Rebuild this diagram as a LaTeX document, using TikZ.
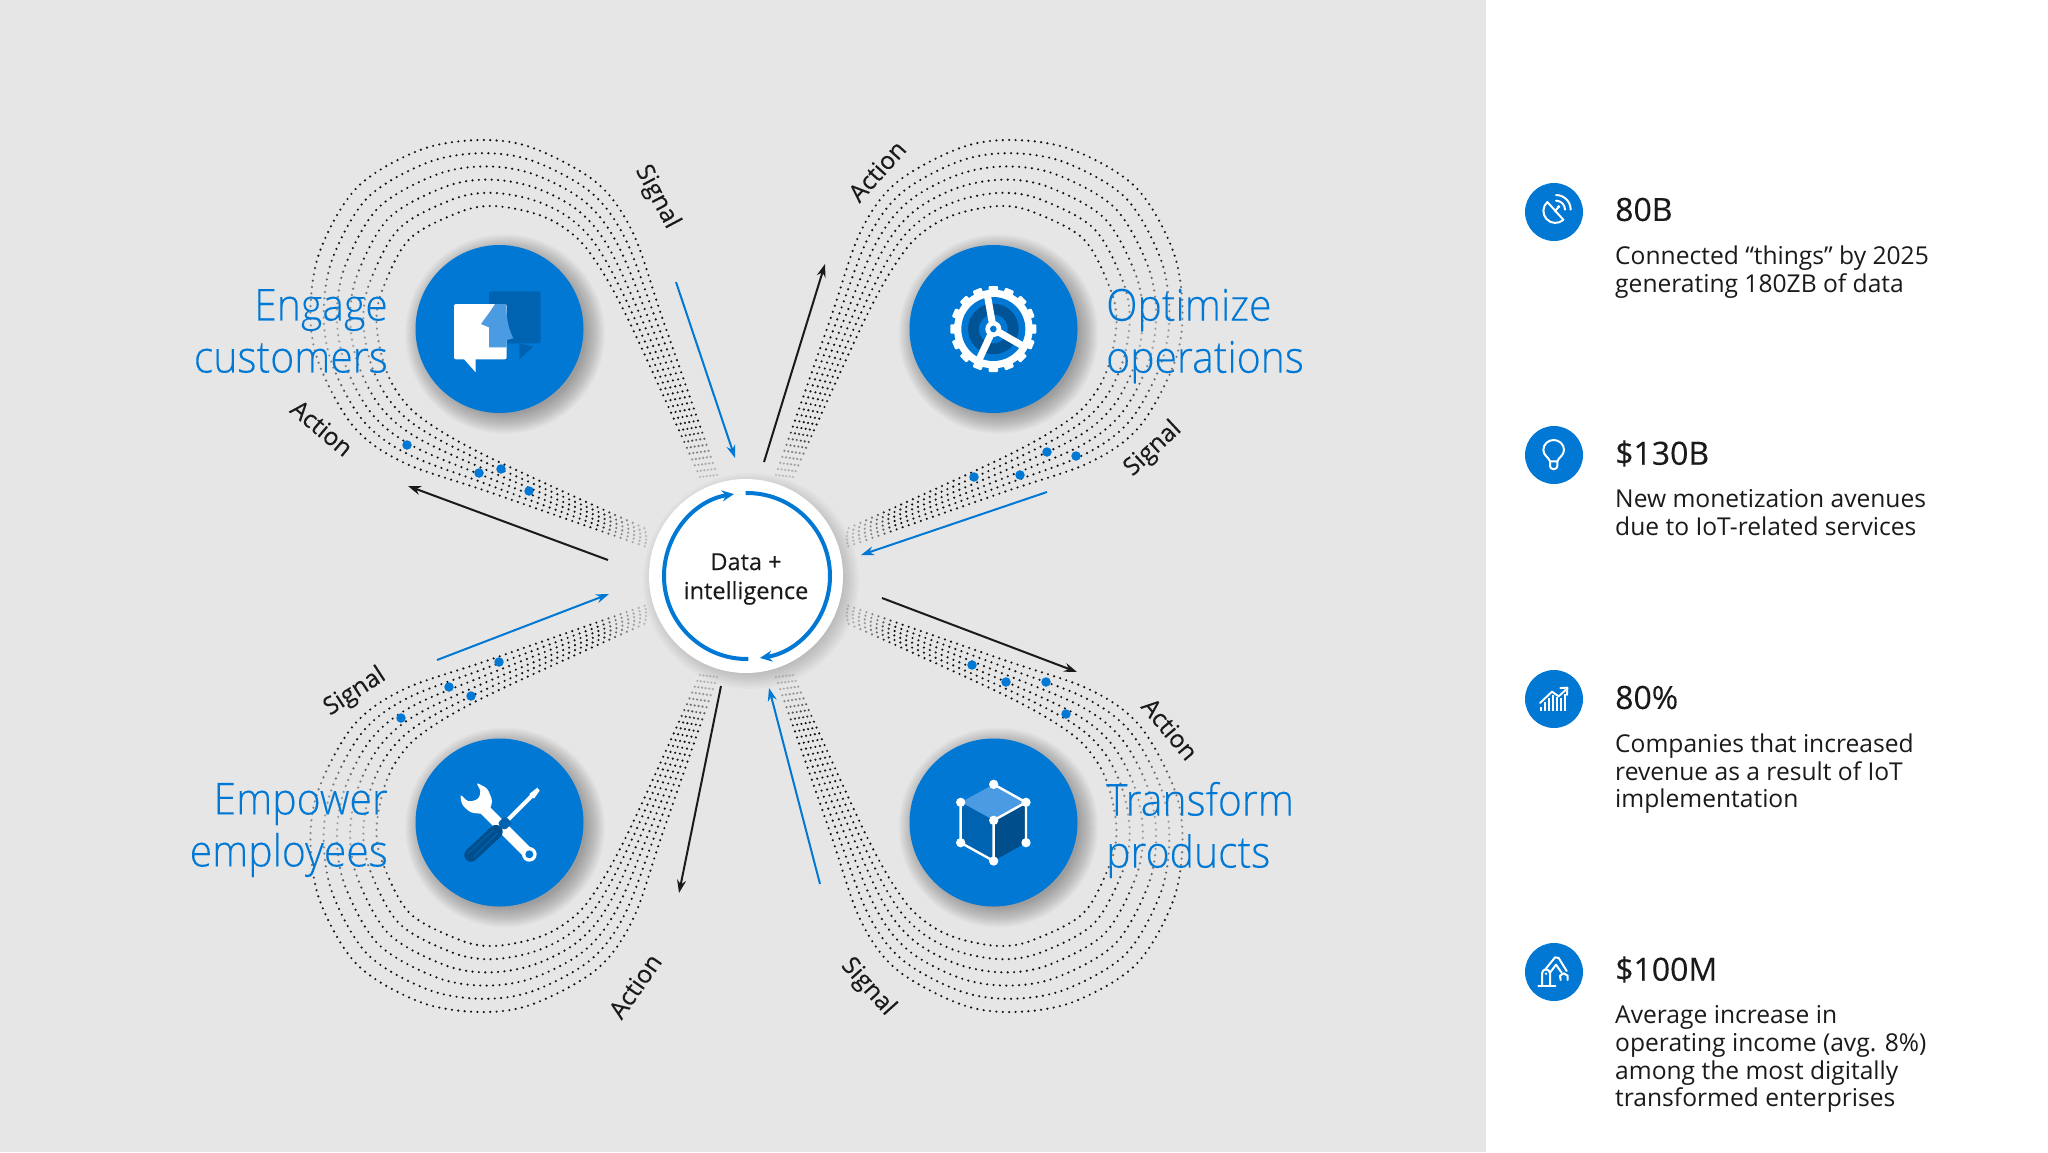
\documentclass[tikz,border=0pt]{standalone}
\usepackage{fontspec}
\usetikzlibrary{arrows.meta}
\setmainfont{Open Sans}
\newfontfamily\lightf{Open Sans Light}[FakeStretch=0.93,FakeBold=0.15]
\newfontfamily\midf{Open Sans}[FakeBold=0.25]
\definecolor{bgc}{HTML}{E6E6E7}
\definecolor{azure}{HTML}{0078D4}
\definecolor{azdark}{HTML}{0063B1}
\definecolor{azdeep}{HTML}{004E8C}
\definecolor{azlight}{HTML}{4A9BE2}
\definecolor{ink}{HTML}{1A1A1A}
\definecolor{dotc}{HTML}{111111}
\tikzset{
 dotline/.style={draw=dotc,line width=2.4,line cap=round,dash pattern=on 0pt off 6.4pt},
 bluearrow/.style={draw=azure,line width=2,-{Stealth[length=13,width=9]}},
 blackarrow/.style={draw=ink,line width=2,-{Stealth[length=13,width=9]}},
 sigdot/.style={fill=azure,circle,inner sep=0,minimum size=9.5},
 hub/.style={circle,fill=azure,minimum size=168,inner sep=0},
 tiny/.style={circle,fill=azure,minimum size=58,inner sep=0},
 headline/.style={font=\lightf\fontsize{44}{52}\selectfont,text=azure,inner sep=0},
 flowlabel/.style={font=\midf\fontsize{24.5}{28}\selectfont,text=ink,inner sep=0},
 stat/.style={font=\midf\fontsize{32}{36}\selectfont,text=ink,inner sep=0,anchor=west},
 statbody/.style={font=\fontsize{24.6}{27.7}\selectfont,text=ink,inner sep=0,anchor=north west,align=left},
 ic/.style={draw=white,line width=2,line cap=round,line join=round},
}
\newcommand{\softdisc}[6]{\foreach \rr in {#3,#4,...,#5}{\fill[bgc,opacity=#6] (#1,#2) circle[radius=\rr];}}
\newcommand{\softshadow}[4]{\foreach \rr in {#3,...,#4}{\fill[black,opacity=0.017] (#1,#2) circle[radius=\rr];}}
\begin{document}
\begin{tikzpicture}[x=1pt,y=-1pt]
\useasboundingbox (0,0) rectangle (2048,1152);
\fill[bgc] (0,0) rectangle (1486,1152);
\fill[white] (1486,0) rectangle (2048,1152);
% dotted loops
\foreach \sx/\sy in {1/1,-1/1,1/-1,-1/-1}{
\begin{scope}[shift={(746.5,576)},xscale=\sx,yscale=\sy]
\foreach \i in {0,...,5}{
\pgfmathsetmacro\t{\i/5}
\draw[dotline] plot[smooth,tension=0.55] coordinates {
({-29.5-17*\t},{-101+2*\t})
({-83.5-36*\t},{-256-3*\t})
({-113.5-43*\t},{-343+20*\t})
({-149.5-34*\t},{-393+44*\t})
({-213.5+0*\t},{-428+65*\t})
({-266.5+13*\t},{-436+66*\t})
({-326.5+40*\t},{-426+62*\t})
({-389+52*\t},{-389+52*\t})
({-426+62*\t},{-326.5+40*\t})
({-436+66*\t},{-266.5+13*\t})
({-428+65*\t},{-213.5+0*\t})
({-393+44*\t},{-149.5-34*\t})
({-343+20*\t},{-113.5-43*\t})
({-256-3*\t},{-83.5-36*\t})
({-101+2*\t},{-29.5-17*\t})
};
}
% fade of the dots beside the labels
\softdisc{-402}{-246}{20}{26}{75}{0.11}
\end{scope}
}
% fade of the dots near the centre
\softdisc{746.5}{576}{100}{105}{155}{0.15}
% blue signal dots
\foreach \px/\py in {407/445,479/473,501/469,529/491,974/477,1020/475,1047/452,1076/456,401/718,449/687,471/696,499/662,972/665,1006/682,1046/682,1066/714}{
 \node[sigdot] (d\px) at (\px,\py) {};
}
% shadows
\foreach \cx/\cy in {500/329,993.5/329,500/822.5,993.5/822.5}{\softshadow{\cx+5}{\cy+5}{80}{100}}
\foreach \rr in {92,94,...,108}{\fill[black,opacity=0.02] (751,581) circle[radius=\rr];}
% circles
\node[circle,fill=white,minimum size=194,inner sep=0] (core) at (746,576) {};
\node[hub] (engage) at (499.5,329) {};
\node[hub] (optimize) at (993.5,329) {};
\node[hub] (empower) at (499.5,822.5) {};
\node[hub] (transform) at (993.5,822.5) {};
% core ring
\draw[azure,line width=4,-{Stealth[length=12,width=11]}] (747,576) ++(-91:83) arc[start angle=-91,end angle=81,radius=83];
\draw[azure,line width=4,-{Stealth[length=12,width=11]}] (747,576) ++(89:83) arc[start angle=89,end angle=261,radius=83];
\node[font=\midf\fontsize{23.5}{29}\selectfont,text=ink,align=center,inner sep=0] (coretxt) at (746,579) {Data +\\intelligence};
% arrows
\coordinate (a1s) at (676,282); \coordinate (a1e) at (735,458);
\coordinate (a2s) at (608,560); \coordinate (a2e) at (408,486);
\coordinate (a3s) at (764,462); \coordinate (a3e) at (825,264);
\coordinate (a4s) at (1047,492); \coordinate (a4e) at (861,555);
\coordinate (a5s) at (882,598); \coordinate (a5e) at (1077,672);
\coordinate (a6s) at (820,884); \coordinate (a6e) at (769,688);
\coordinate (a7s) at (721,686); \coordinate (a7e) at (679,893);
\coordinate (a8s) at (437,660); \coordinate (a8e) at (609,594);
\draw[bluearrow] (a1s) -- (a1e);
\draw[blackarrow] (a2s) -- (a2e);
\draw[blackarrow] (a3s) -- (a3e);
\draw[bluearrow] (a4s) -- (a4e);
\draw[blackarrow] (a5s) -- (a5e);
\draw[bluearrow] (a6s) -- (a6e);
\draw[blackarrow] (a7s) -- (a7e);
\draw[bluearrow] (a8s) -- (a8e);
% flow labels
\node[flowlabel,rotate=-62] (l1) at (657,197) {Signal};
\node[flowlabel,rotate=-40] (l2) at (322,428) {Action};
\node[flowlabel,rotate=48] (l3) at (877,171) {Action};
\node[flowlabel,rotate=43] (l4) at (1153,449) {Signal};
\node[flowlabel,rotate=-50] (l5) at (1170,729) {Action};
\node[flowlabel,rotate=-48] (l6) at (868,987) {Signal};
\node[flowlabel,rotate=55] (l7) at (635,986) {Action};
\node[flowlabel,rotate=33] (l8) at (355,692) {Signal};
% headlines
\node[headline,anchor=east,align=right] (h1) at (388,331) {Engage\\customers};
\node[headline,anchor=west,align=left] (h2) at (1106,336) {Optimize\\operations};
\node[headline,anchor=east,align=right] (h3) at (388,830) {Empower\\employees};
\node[headline,anchor=west,align=left] (h4) at (1106,830) {Transform\\products};
% engage icon
\begin{scope}[shift={(280,120)},scale=1/3]
\fill[azdark,rounded corners=2] (627,514) rectangle (782,670);
\fill[azdark] (718,670) -- (718,718) -- (760,680) -- cycle;
\fill[white,rounded corners=2] (522,552) rectangle (680,718);
\fill[white] (550,715) -- (587,757) -- (587,715) -- cycle;
\fill[azlight] (645,552) -- (678,552) .. controls (680,590) and (682,620) .. (700,655) -- (680,660) -- (680,682) -- (627,682) -- (627,622) -- (603,612) -- (630,575) -- cycle;
\end{scope}
% gear icon
\begin{scope}[shift={(890,230)},scale=1/3]
\foreach \a in {0,22.5,...,337.5}{\fill[white,rotate around={\a:(310,297)},rounded corners=1] (296,168) rectangle (324,190);}
\fill[white] (310,297) circle[radius=118];
\fill[azure] (310,297) circle[radius=96];
\fill[azdeep!75!azdark] (310,297) circle[radius=76];
\fill[azure] (310,297) circle[radius=43];
\draw[white,line width=7] (310,297) -- (292,195);
\draw[white,line width=7] (310,297) -- (262,400);
\draw[white,line width=7] (310,297) -- (402,350);
\fill[white] (310,297) circle[radius=24];
\fill[azure] (310,297) circle[radius=10];
\end{scope}
% tools icon
\begin{scope}[shift={(400,720)},scale=1/3]
\draw[white,line width=11] (250,265) -- (385,400);
\fill[white,rounded corners=3] (228,187) -- (262,205) -- (277,240) -- (272,265) -- (250,282) -- (212,278) -- (186,255) -- (180,222) -- (205,246) -- (235,238) -- (243,214) -- cycle;
\fill[white] (388,403) circle[radius=22];
\fill[azure] (388,403) circle[radius=12];
\draw[white,line width=4] (325,298) -- (395,228);
\fill[white] (388,222) -- (412,203) -- (419,212) -- (402,236) -- cycle;
\fill[azdark,rounded corners=3] (315,288) -- (338,310) -- (312,332) -- (292,310) -- cycle;
\draw[azdeep,line width=13.5,line cap=round] (288,335) -- (213,405);
\draw[azdark,line width=1] (280,330) -- (205,400);
\draw[azdark,line width=1] (292,340) -- (222,410);
\end{scope}
% cube icon
\begin{scope}[shift={(900,720)},scale=1/3]
\fill[azlight] (281,193) -- (378,247) -- (281,301) -- (182,247) -- cycle;
\fill[azdark] (182,247) -- (281,301) -- (281,423) -- (182,368) -- cycle;
\fill[azdeep] (281,301) -- (378,247) -- (378,368) -- (281,423) -- cycle;
\draw[white,line width=2.4] (281,193) -- (378,247) -- (378,368);
\draw[white,line width=2.4] (378,247) -- (281,301) -- (281,423) -- (182,368) -- (182,247);
\foreach \vx/\vy in {281/193,378/247,281/301,182/247,182/368,281/423,378/368}{\fill[white] (\vx,\vy) circle[radius=14];}
\end{scope}
% small icons
\node[tiny] (t1) at (1554,212) {};
\node[tiny] (t2) at (1554,455) {};
\node[tiny] (t3) at (1554,699) {};
\node[tiny] (t4) at (1554,972) {};
% dish
\begin{scope}[shift={(1520,178)},scale=1/3]
\draw[ic] (82,72) arc[start angle=-132,end angle=-312,radius=36] -- cycle;
\draw[ic] (105,100) -- (116,86);
\fill[white] (116,86) circle[radius=5];
\draw[ic] (108,68) arc[start angle=-90,end angle=0,radius=27];
\draw[ic] (108,51) arc[start angle=-90,end angle=0,radius=44];
\end{scope}
% bulb
\begin{scope}[shift={(1520,420)},scale=1/3]
\draw[ic] (90,124) .. controls (86,112) and (70,106) .. (70,90) .. controls (70,72) and (85,60) .. (101,60) .. controls (117,60) and (132,72) .. (132,90) .. controls (132,106) and (116,112) .. (112,124) -- cycle;
\draw[ic,rounded corners=3] (90,124) -- (90,147) -- (112,147) -- (112,124);
\end{scope}
% chart
\begin{scope}[shift={(1520,665)},scale=1/3]
\foreach \bx/\by in {62/125,74/112,86/100,98/90,110/96,122/100,134/88}{\draw[white,line width=1.7] (\bx,139) -- (\bx,\by);}
\draw[ic,line width=1.9] (60,114) -- (96,80) -- (116,94) -- (142,70);
\draw[ic,line width=1.9] (121,69) -- (142,68) -- (141,90);
\end{scope}
% robot
\begin{scope}[shift={(1520,938)},scale=1/3]
\draw[ic] (55,144) -- (106,144);
\draw[ic] (66,144) -- (66,106) arc[start angle=180,end angle=360,radius=12] -- (90,144);
\fill[white] (78,107) circle[radius=4];
\draw[ic] (76,94) -- (105,58) -- (116,60) -- (140,99);
\draw[ic] (90,104) -- (108,80) -- (125,104);
\draw[ic] (122,126) -- (120,113) -- (131,106) -- (143,113) -- (143,126);
\end{scope}
% statistics
\node[stat] (s1) at (1615,209.5) {80B};
\node[statbody] (b1) at (1615,245.5) {Connected “things” by 2025\\generating 180ZB of data};
\node[stat] (s2) at (1615,453.5) {\$130B};
\node[statbody] (b2) at (1615,489.5) {New monetization avenues\\due to IoT-related services};
\node[stat] (s3) at (1615,697.5) {80\%};
\node[statbody] (b3) at (1615,733.5) {Companies that increased\\revenue as a result of IoT\\implementation};
\node[stat] (s4) at (1615,969.5) {\$100M};
\node[statbody] (b4) at (1615,1005.5) {Average increase in\\operating income (avg. 8\%)\\among the most digitally\\transformed enterprises};
\end{tikzpicture}
\end{document}
